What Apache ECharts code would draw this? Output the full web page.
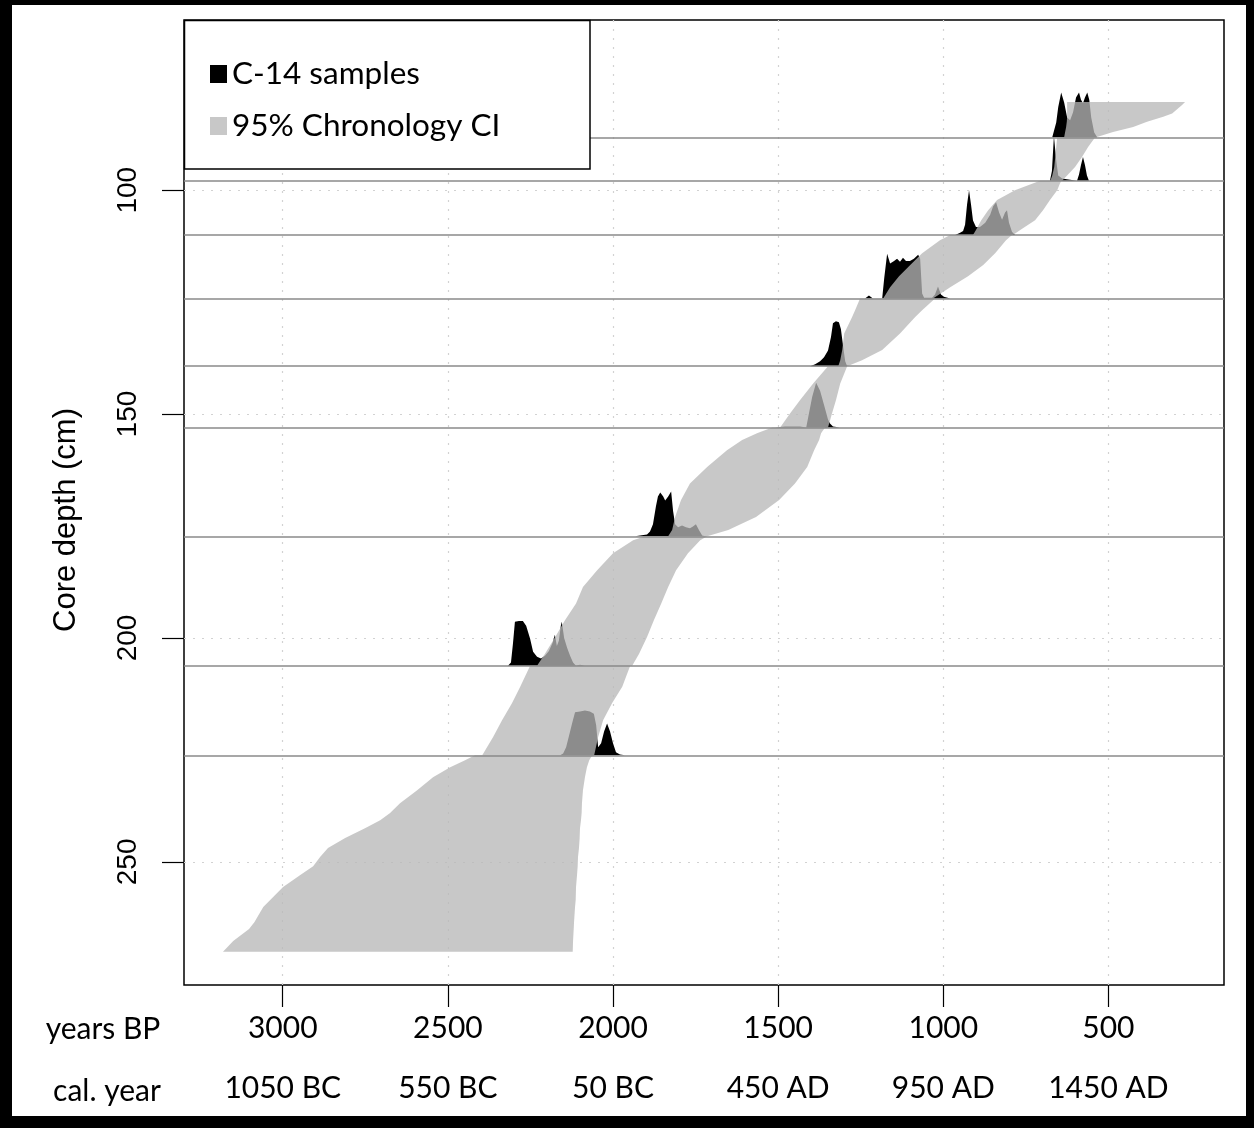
<!DOCTYPE html>
<html>
<head>
<meta charset="utf-8">
<script src="https://cdn.jsdelivr.net/npm/echarts@6/dist/echarts.min.js"></script>
<style>
  html, body { margin: 0; padding: 0; background: #fff; }
  #chart { width: 1254px; height: 1128px; }
</style>
</head>
<body>
<div id="chart"></div>
<script>
// axis ticks
var yearTicks = [3000, 2500, 2000, 1500, 1000, 500];
var calLabels = ['1050 BC', '550 BC', '50 BC', '450 AD', '950 AD', '1450 AD'];
var depthTicks = [100, 150, 200, 250];

// 95% chronology CI: depth (cm), oldest / youngest edge (years BP)
var bandDepth = [80.3, 81.0, 82.9, 83.6, 84.7, 85.9, 87.0, 88.2,
  88.2, 90.3, 92.6, 94.8, 96.7, 97.9,
  97.9, 98.9, 100.0, 102.2, 104.5, 106.7, 108.9, 110.0,
  110.0, 111.2, 114.1, 116.7, 119.2, 121.7, 124.2,
  124.2, 126.8, 128.3, 132.0, 135.7, 138.0, 139.3,
  139.3, 143.2, 146.9, 149.9, 153.0,
  153.0, 154.3, 155.8, 158.1, 161.8, 165.5, 169.2, 173.0, 175.9, 177.3,
  177.3, 178.2, 181.1, 184.9, 188.6, 192.3, 196.0, 199.8, 203.5, 206.2,
  206.2, 210.9, 214.6, 218.4, 222.1, 226.2,
  226.2, 227.3, 228.9, 231.1, 234.0, 236.9, 239.1, 240.7, 242.5, 244.7, 246.9,
  248.9, 251.0, 253.0, 255.6, 258.5, 260.1, 263.5, 265.0, 267.7, 270.1];
var bandOld = [625, 625, 625, 625, 626, 628, 631, 634,
  655, 658, 661, 664, 670, 676,
  707, 743, 783, 837, 864, 885, 901, 910,
  979, 1010, 1064, 1100, 1134, 1161, 1182,
  1252, 1267, 1276, 1300, 1306, 1312, 1318,
  1349, 1394, 1434, 1464, 1494,
  1518, 1564, 1609, 1655, 1715, 1767, 1794, 1812, 1821, 1833,
  1903, 1939, 2000, 2048, 2091, 2112, 2145, 2175, 2206, 2230,
  2251, 2281, 2306, 2336, 2363, 2396,
  2418, 2448, 2493, 2545, 2593, 2645, 2675, 2705, 2751, 2811, 2863,
  2887, 2908, 2948, 2999, 3038, 3059, 3086, 3102, 3150, 3181];
var bandYoung = [268, 277, 307, 334, 383, 425, 486, 537,
  540, 561, 580, 601, 625, 640,
  643, 649, 655, 677, 698, 722, 767, 789,
  792, 810, 843, 879, 925, 979, 1031,
  1025, 1064, 1085, 1131, 1185, 1246, 1291,
  1291, 1312, 1325, 1337, 1349,
  1358, 1370, 1376, 1391, 1412, 1449, 1497, 1567, 1651, 1715,
  1715, 1736, 1773, 1809, 1833, 1854, 1876, 1897, 1921, 1942,
  1948, 1972, 2003, 2030, 2045, 2057,
  2063, 2072, 2079, 2085, 2091, 2094, 2095, 2097, 2100, 2101, 2103,
  2106, 2107, 2109, 2112, 2113, 2115, 2118, 2119, 2121, 2122];

// C-14 samples: depth (cm), calibrated ages (years BP) and relative density
var sampleDepth = [88.2, 97.9, 110.0, 124.2, 139.3, 153.0, 177.3, 206.2, 226.2];
var sampleAges = [
  [670, 658, 652, 643, 634, 625, 616, 607, 598, 589, 583, 577, 571, 564, 558, 552, 543, 534],
  [677, 671, 665, 658, 652, 640, 616, 595, 589, 583, 577, 571, 565, 559],
  [964, 949, 940, 934, 928, 922, 916, 910, 901, 889, 873, 858, 849, 840, 831, 822, 813, 807, 801, 792, 783],
  [1237, 1225, 1213, 1185, 1179, 1170, 1161, 1149, 1140, 1131, 1122, 1113, 1101, 1089, 1076, 1070, 1064, 1058, 1034, 1025, 1016, 1007, 998, 979],
  [1403, 1388, 1373, 1361, 1349, 1340, 1334, 1325, 1316, 1310, 1303, 1297, 1291],
  [1509, 1479, 1434, 1415, 1409, 1397, 1385, 1373, 1361, 1349, 1343, 1334, 1313],
  [1933, 1918, 1897, 1888, 1879, 1870, 1864, 1857, 1848, 1842, 1833, 1824, 1818, 1812, 1803, 1791, 1779, 1767, 1758, 1749, 1739, 1730, 1721],
  [2318, 2309, 2303, 2297, 2285, 2273, 2263, 2251, 2242, 2230, 2218, 2206, 2194, 2182, 2176, 2170, 2164, 2158, 2155, 2148, 2139, 2130, 2121, 2112, 2100, 2085],
  [2160, 2151, 2142, 2133, 2124, 2115, 2100, 2085, 2070, 2058, 2051, 2045, 2036, 2027, 2018, 2009, 2000, 1991, 1979, 1964]
];
var sampleDens = [
  [0, .33, .67, 1, .78, .44, .38, .56, .89, 1, .84, .76, .89, 1, .84, .44, .11, 0],
  [0, .22, 1, .45, .12, .05, .02, 0, .14, .35, .53, .35, .12, 0],
  [0, .05, .09, .23, .68, 1, .68, .32, .18, .18, .27, .45, .64, .73, .5, .34, .5, .55, .27, .07, 0],
  [0, .07, 0, 0, .44, 1, .78, .84, .89, .82, .91, .84, .84, .89, .98, .89, .11, .02, .02, .09, .27, .09, .04, 0],
  [0, .04, .11, .2, .35, .65, .96, 1, .98, .83, .43, .11, 0],
  [0, .02, .02, 0, .23, .68, 1, .82, .5, .18, .09, .02, 0],
  [0, .02, .04, .11, .27, .67, .89, .98, .89, .8, .89, 1, .56, .27, .2, .24, .2, .18, .22, .27, .13, .02, 0],
  [0, .07, .49, .98, 1, 1, .89, .6, .31, .2, .16, .22, .33, .53, .69, .44, .56, .89, .98, .62, .4, .22, .07, 0, .02, 0],
  [0, .04, .18, .44, .71, .96, .98, 1, .98, .93, .67, .18, .27, .53, .71, .53, .27, .07, .02, 0]
];
var peakHeight = 10; // cm of depth used for a density of 1

var chart = echarts.init(document.getElementById('chart'));

function renderSample(params, api) {
  var k = api.value(2);
  var ages = sampleAges[k], dens = sampleDens[k], d = sampleDepth[k];
  var pts = [api.coord([ages[0], d])];
  for (var i = 0; i < ages.length; i++) {
    pts.push(api.coord([ages[i], d - dens[i] * peakHeight]));
  }
  pts.push(api.coord([ages[ages.length - 1], d]));
  return { type: 'polygon', shape: { points: pts }, style: { fill: api.visual('color') } };
}

function renderBand(params, api) {
  var pts = [];
  for (var i = 0; i < bandDepth.length; i++) pts.push(api.coord([bandOld[i], bandDepth[i]]));
  for (var j = bandDepth.length - 1; j >= 0; j--) pts.push(api.coord([bandYoung[j], bandDepth[j]]));
  return { type: 'polygon', shape: { points: pts }, style: { fill: api.visual('color') } };
}

var sampleData = sampleDepth.map(function (d, k) { return [sampleAges[k][0], d, k]; });

var labelFont = 'Lato';

var option = {
  animation: false,
  grid: { left: 184, top: 20, width: 1040, height: 965, show: true, borderColor: '#000', borderWidth: 1.5 },
  xAxis: {
    type: 'value', inverse: true, min: 150, max: 3299,
    axisLine: { show: false },
    axisTick: { show: true, customValues: yearTicks, length: 22, lineStyle: { color: '#000', width: 1.2 } },
    axisLabel: {
      customValues: yearTicks, margin: 23,
      formatter: function (v) { return '{a|' + v + '}\n{b|' + calLabels[yearTicks.indexOf(v)] + '}'; },
      rich: {
        a: { fontFamily: labelFont, fontSize: 30, color: '#000', lineHeight: 40 },
        b: { fontFamily: labelFont, fontSize: 30, color: '#000', lineHeight: 80 }
      }
    },
    splitLine: { show: true, lineStyle: { color: '#d2d2d2', width: 1.2, type: [2, 7] } }
  },
  yAxis: {
    type: 'value', inverse: true, min: 62, max: 277.5,
    axisLine: { show: false },
    axisTick: { show: true, customValues: depthTicks, length: 22, lineStyle: { color: '#000', width: 1.2 } },
    axisLabel: { customValues: depthTicks, rotate: 90, margin: 42, fontFamily: 'Liberation Sans', fontSize: 28, color: '#000' },
    splitLine: { show: true, lineStyle: { color: '#d2d2d2', width: 1.2, type: [2, 7] } }
  },
  legend: {
    orient: 'vertical', left: 210, top: 58, padding: 0, itemGap: 20,
    itemWidth: 17, itemHeight: 18, icon: 'rect', z: 11,
    textStyle: { fontFamily: 'Lato', fontSize: 31.5, color: '#000', lineHeight: 30 },
    data: ['C-14 samples', '95% Chronology CI']
  },
  series: [
    {
      name: 'C-14 samples', type: 'custom', z: 2,
      itemStyle: { color: '#000' },
      renderItem: renderSample, data: sampleData, encode: { x: 0, y: 1 }
    },
    {
      name: '95% Chronology CI', type: 'custom', z: 3,
      itemStyle: { color: 'rgba(183,183,183,0.765)' },
      renderItem: renderBand, data: [[bandOld[0], bandDepth[0]]], encode: { x: 0, y: 1 },
      markLine: {
        silent: true, symbol: ['none', 'none'], label: { show: false },
        lineStyle: { color: '#8a8a8a', width: 1.6, type: 'solid' },
        data: sampleDepth.map(function (d) { return { yAxis: d }; })
      }
    }
  ],
  graphic: [
    { type: 'rect', z: 10, shape: { x: 184.5, y: 20.5, width: 405.5, height: 148.5 },
      style: { fill: '#fff', stroke: '#000', lineWidth: 1.5 } },
    { type: 'text', x: 66, y: 520, rotation: Math.PI / 2,
      style: { text: 'Core depth (cm)', fontFamily: 'Liberation Sans', fontSize: 31, fill: '#000', align: 'center', verticalAlign: 'middle' } },
    { type: 'text', x: 103, y: 1029,
      style: { text: 'years BP', fontFamily: labelFont, fontSize: 30, fill: '#000', align: 'center', verticalAlign: 'middle' } },
    { type: 'text', x: 107, y: 1091,
      style: { text: 'cal. year', fontFamily: labelFont, fontSize: 30, fill: '#000', align: 'center', verticalAlign: 'middle' } },
    // thick black frame round the figure
    { type: 'rect', z: 20, shape: { x: 0, y: 0, width: 12, height: 1128 }, style: { fill: '#000' } },
    { type: 'rect', z: 20, shape: { x: 0, y: 1116, width: 1254, height: 12 }, style: { fill: '#000' } },
    { type: 'rect', z: 20, shape: { x: 0, y: 0, width: 1254, height: 5 }, style: { fill: '#000' } },
    { type: 'rect', z: 20, shape: { x: 1246, y: 0, width: 8, height: 1128 }, style: { fill: '#000' } }
  ]
};

chart.setOption(option);
</script>
</body>
</html>
